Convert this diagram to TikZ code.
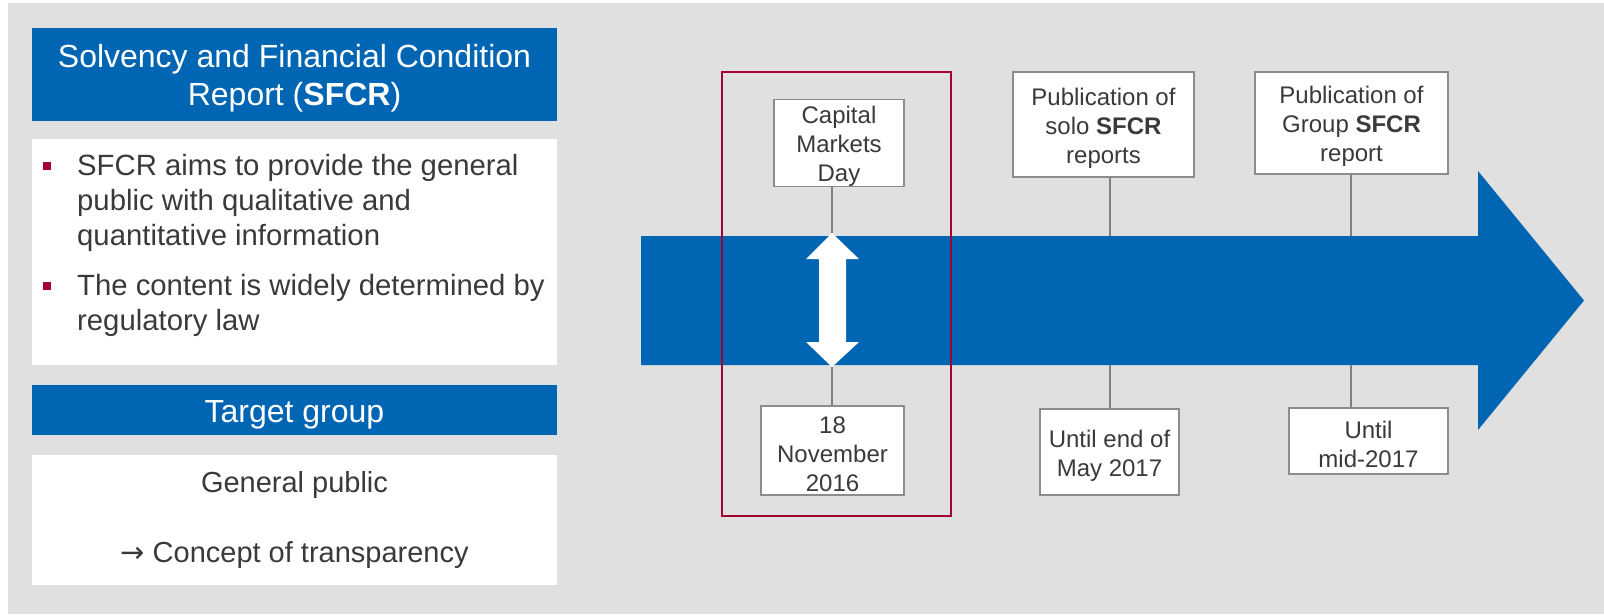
\documentclass[tikz,border=0pt]{standalone}
\usepackage{fontspec}
\setmainfont{Liberation Sans}
\newfontfamily\arrowfont{DejaVu Sans}
\definecolor{bggray}{RGB}{224,224,224}
\definecolor{sblue}{RGB}{0,101,179}
\definecolor{frred}{RGB}{165,0,52}
\definecolor{txtgray}{RGB}{58,58,58}
\definecolor{bordgray}{RGB}{140,140,140}
\definecolor{conngray}{RGB}{128,128,128}
\newcommand{\hdrstrut}{\rule{0pt}{31pt}}
\newcommand{\evstrut}{\rule{0pt}{24.5pt}}
\begin{document}
\begin{tikzpicture}[x=1pt,y=-1pt,
  hdr/.style={fill=sblue,text=white,minimum width=525pt,inner sep=0pt,align=center,font=\fontsize{32}{38}\selectfont},
  panel/.style={fill=white,minimum width=525pt,inner sep=0pt},
  btxt/.style={text=txtgray,anchor=west,inner sep=0pt,font=\fontsize{29.3}{35}\selectfont},
  ctxt/.style={text=txtgray,inner sep=0pt,font=\fontsize{29}{35}\selectfont},
  bsq/.style={fill=frred,minimum size=8pt,inner sep=0pt},
  evbox/.style={draw=bordgray,line width=1.5pt,fill=white,text=txtgray,align=center,inner sep=0pt,font=\fontsize{24}{29}\selectfont},
  conn/.style={draw=conngray,line width=1.3pt}]
\useasboundingbox (0,0) rectangle (1604,614);
\fill[bggray] (8,3) rectangle (1604,614);

% ---------- left panel ----------
\node[hdr,minimum height=93pt] (title) at (294.5,74.5) {\hdrstrut Solvency and Financial Condition\\Report (\textbf{SFCR})};
\node[panel,minimum height=226pt] (aims) at (294.5,252) {};
\node[bsq] (sq1) at (47,165.5) {};
\node[btxt] (a1) at (77,168) {SFCR aims to provide the general};
\node[btxt] (a2) at (77,203) {public with qualitative and};
\node[btxt] (a3) at (77,238) {quantitative information};
\node[bsq] (sq2) at (47,285.5) {};
\node[btxt] (b1) at (77,288) {The content is widely determined by};
\node[btxt] (b2) at (77,323) {regulatory law};

\node[hdr,minimum height=50pt] (tg) at (294.5,410) {\hdrstrut Target group};
\node[panel,minimum height=130pt] (gp) at (294.5,520) {};
\node[ctxt] (gp1) at (294.5,484.5) {General public};
\node[ctxt] (gp2) at (294.5,555) {{\arrowfont\fontsize{29}{35}\selectfont →} Concept of transparency};

% ---------- timeline ----------
\fill[sblue] (641,236) -- (1478,236) -- (1478,171) -- (1584,300.5) -- (1478,430) -- (1478,365) -- (641,365) -- cycle;
\fill[white] (832,233) -- (859,259) -- (846,259) -- (846,342) -- (859,342) -- (832,367) -- (806,342) -- (819,342) -- (819,259) -- (806,259) -- cycle;
\coordinate (dtop) at (832,233);
\coordinate (dbot) at (832,367);
\coordinate (s1t) at (1110,236);
\coordinate (s1b) at (1110,365);
\coordinate (g1t) at (1351,236);
\coordinate (g1b) at (1351,365);

\node[evbox,minimum width=130pt,minimum height=86pt] (cmd) at (839,143) {\evstrut Capital\\Markets\\Day};
\node[evbox,minimum width=143pt,minimum height=89pt] (nov) at (832.5,450.5) {\evstrut 18\\November\\2016};
\node[evbox,minimum width=181pt,minimum height=105pt] (solo) at (1103.5,124.5) {\evstrut Publication of\\solo \textbf{SFCR}\\reports};
\node[evbox,minimum width=193pt,minimum height=102pt] (grp) at (1351.5,123) {\evstrut Publication of\\Group \textbf{SFCR}\\report};
\node[evbox,minimum width=139pt,minimum height=86pt] (may) at (1109.5,452) {\evstrut Until end of\\May 2017};
\node[evbox,minimum width=159pt,minimum height=66pt] (mid) at (1368.5,441) {\evstrut Until\\mid-2017};

\draw[conn] (cmd.south -| dtop) -- (dtop);
\draw[conn] (dbot) -- (nov.north -| dbot);
\draw[conn] (solo.south -| s1t) -- (s1t);
\draw[conn] (s1b) -- (may.north -| s1b);
\draw[conn] (grp.south -| g1t) -- (g1t);
\draw[conn] (g1b) -- (mid.north -| g1b);

\node[draw=frred,line width=2pt,minimum width=229pt,minimum height=444pt,inner sep=0pt] (focus) at (836.5,294) {};
\end{tikzpicture}
\end{document}
